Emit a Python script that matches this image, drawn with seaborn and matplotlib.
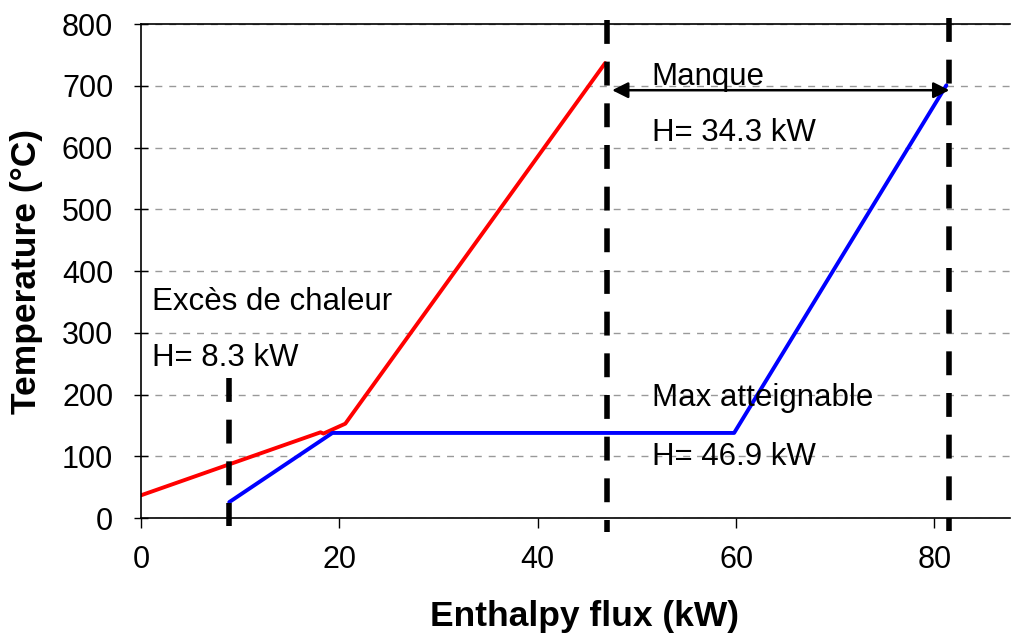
import matplotlib
matplotlib.use("Agg")
import matplotlib.pyplot as plt
import seaborn as sns
import pandas as pd

# Composite curves
hot_h = [0.0, 18.1, 18.4, 20.6, 46.8]
hot_t = [37, 139, 137, 153, 737]
cold_h = [8.9, 19.3, 59.8, 81.2]
cold_t = [26, 138, 138, 701]

# Dashed markers
excess_x = 8.9
deficit_x = 47.0
max_x = 81.5

x_ticks = [0, 20, 40, 60, 80]
y_ticks = [0, 100, 200, 300, 400, 500, 600, 700, 800]

sns.set_theme(style="white")
plt.rcParams["font.family"] = ["Liberation Sans", "DejaVu Sans"]
plt.rcParams["text.color"] = "black"
plt.rcParams["axes.labelcolor"] = "black"
plt.rcParams["xtick.color"] = "black"
plt.rcParams["ytick.color"] = "black"

fig = plt.figure(figsize=(10.18, 6.35), dpi=100)
ax = fig.add_axes([0.1385, 0.184, 0.8535, 0.778])

hot = pd.DataFrame({"H": hot_h, "T": hot_t})
cold = pd.DataFrame({"H": cold_h, "T": cold_t})
sns.lineplot(data=hot, x="H", y="T", sort=False, color="#ff0000", lw=2.8, ax=ax)
sns.lineplot(data=cold, x="H", y="T", sort=False, color="#0000ff", lw=2.8, ax=ax)

dash = dict(color="black", lw=4.0, linestyle=(0, (4.3, 3.2)), clip_on=False)
ax.plot([excess_x, excess_x], [227, -13], **dash)
ax.plot([deficit_x, deficit_x], [806, -22], **dash)
ax.plot([max_x, max_x], [810, -20], **dash)

ax.annotate("", xy=(47.5, 693), xytext=(81.5, 693),
            arrowprops=dict(arrowstyle="<|-|>", color="black", lw=1.8,
                            mutation_scale=24, shrinkA=0, shrinkB=0))

fs = 22.5
ax.text(1.1, 350, "Excès de chaleur", fontsize=fs, va="center")
ax.text(1.1, 259, "H= 8.3 kW", fontsize=fs, va="center")
ax.text(51.5, 715, "Manque", fontsize=fs, va="center")
ax.text(51.5, 623, "H= 34.3 kW", fontsize=fs, va="center")
ax.text(51.5, 194, "Max atteignable", fontsize=fs, va="center")
ax.text(51.5, 99, "H= 46.9 kW", fontsize=fs, va="center")

ax.set_xlim(0, 87.6)
ax.set_ylim(0, 800)
ax.set_xticks(x_ticks)
ax.set_yticks(y_ticks)
ax.tick_params(axis="x", direction="out", length=7, width=1, labelsize=22, pad=12, bottom=True)
ax.tick_params(axis="y", direction="inout", length=10, width=1, labelsize=22, pad=15, left=True)
ax.yaxis.grid(True, color="#999999", linestyle=(0, (5, 5)), lw=1)
ax.xaxis.grid(False)

for side in ["left", "bottom", "top"]:
    ax.spines[side].set_color("black")
    ax.spines[side].set_linewidth(1.2)
ax.spines["right"].set_visible(False)

ax.set_xlabel("Enthalpy flux (kW)", fontsize=25.5, fontweight="bold", va="center")
ax.set_ylabel("Temperature (°C)", fontsize=25.5, fontweight="bold", labelpad=14)
ax.xaxis.set_label_coords(0.511, -0.2)

fig.savefig("out.png", dpi=100)
